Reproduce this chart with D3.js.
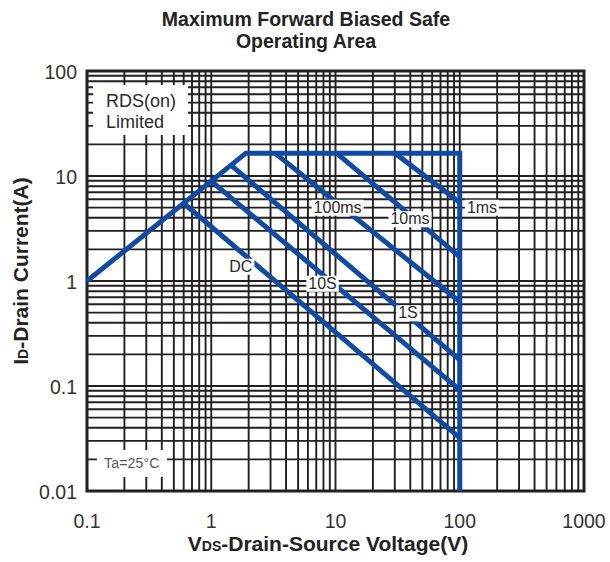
<!DOCTYPE html>
<html>
<head>
<meta charset="utf-8">
<script src="https://cdn.jsdelivr.net/npm/d3@7"></script>
<style>
  body { margin: 0; background: #fff; }
  svg { display: block; font-family: "Liberation Sans", Arial, sans-serif; }
</style>
</head>
<body>
<div id="chart"></div>
<script>
// axis ticks (log decades)
const xTicks = [0.1, 1, 10, 100, 1000];
const xTickLabels = ["0.1", "1", "10", "100", "1000"];
const yTicks = [0.01, 0.1, 1, 10, 100];
const yTickLabels = ["0.01", "0.1", "1", "10", "100"];

// outer SOA boundary: RDS(on) limit -> current limit -> voltage limit
const limitV = [0.1, 1.9, 100, 100];
const limitI = [1, 16.5, 16.5, 0.01];

// pulse-width lines
const pulseNames = ["DC", "10S", "1S", "100ms", "10ms", "1ms"];
const pulseStartV = [0.6, 1.0, 1.44, 3.26, 10.2, 30.1];
const pulseStartI = [5.5, 8.95, 12.7, 16.5, 16.5, 16.5];
const pulseEndV = [100, 100, 100, 100, 100, 100];
const pulseEndI = [0.032, 0.092, 0.177, 0.635, 1.7, 5.6];
// where each label sits (data coords)
const labelV = [1.73, 7.86, 38.3, 10.4, 39.8, 151];
const labelI = [1.39, 0.957, 0.5, 5.07, 3.94, 5.07];

const width = 610, height = 562;
const margin = { top: 71, right: 26, bottom: 71, left: 87 };

const svg = d3.select("#chart").append("svg")
    .attr("width", width)
    .attr("height", height);

svg.append("rect").attr("width", width).attr("height", height).attr("fill", "#fff");

const x = d3.scaleLog().domain([0.1, 1000]).range([margin.left, width - margin.right]);
const y = d3.scaleLog().domain([0.01, 100]).range([height - margin.bottom, margin.top]);

const gridCol = "#231f20";
const blue = "#0f4aa3";

// grid: 1..9 in each decade
const xGrid = [], yGrid = [];
xTicks.slice(0, -1).forEach(d => { for (let k = 1; k <= 9; k++) xGrid.push(d * k); });
yTicks.slice(0, -1).forEach(d => { for (let k = 1; k <= 9; k++) yGrid.push(d * k); });

const grid = svg.append("g");
grid.selectAll("line.v").data(xGrid).enter().append("line")
    .attr("x1", d => x(d)).attr("x2", d => x(d))
    .attr("y1", y(100)).attr("y2", y(0.01))
    .attr("stroke", gridCol).attr("stroke-width", 1.9);
grid.selectAll("line.h").data(yGrid).enter().append("line")
    .attr("x1", x(0.1)).attr("x2", x(1000))
    .attr("y1", d => y(d)).attr("y2", d => y(d))
    .attr("stroke", gridCol).attr("stroke-width", 1.9);

// frame
svg.append("rect")
    .attr("x", x(0.1)).attr("y", y(100))
    .attr("width", x(1000) - x(0.1)).attr("height", y(0.01) - y(100))
    .attr("fill", "none").attr("stroke", gridCol).attr("stroke-width", 3);

// white boxes for corner notes
svg.append("rect").attr("x", 93).attr("y", 85).attr("width", 95).attr("height", 50).attr("fill", "#fff");
svg.append("rect").attr("x", 97).attr("y", 450).attr("width", 70).attr("height", 27).attr("fill", "#fff");

const line = d3.line().x(d => x(d[0])).y(d => y(d[1]));

// boundary
svg.append("path")
    .attr("d", line(limitV.map((v, i) => [v, limitI[i]])))
    .attr("fill", "none").attr("stroke", blue).attr("stroke-width", 5)
    .attr("stroke-linejoin", "miter");

// pulse lines
svg.append("g").selectAll("path").data(pulseNames).enter().append("path")
    .attr("d", (d, i) => line([[pulseStartV[i], pulseStartI[i]], [pulseEndV[i], pulseEndI[i]]]))
    .attr("fill", "none").attr("stroke", blue).attr("stroke-width", 5);

// pulse labels with white backing
const lab = svg.append("g").selectAll("g").data(pulseNames).enter().append("g")
    .attr("transform", (d, i) => `translate(${x(labelV[i])},${y(labelI[i])})`);
lab.append("text")
    .attr("text-anchor", "middle").attr("dy", "0.36em")
    .attr("font-size", 16).attr("fill", "#2a2a2a")
    .text(d => d);
lab.each(function() {
  const g = d3.select(this);
  const b = g.select("text").node().getBBox();
  g.insert("rect", "text")
    .attr("x", b.x - 2).attr("y", b.y + 1)
    .attr("width", b.width + 4).attr("height", b.height - 1)
    .attr("fill", "#fff");
});

// notes
svg.append("text").attr("x", 106).attr("y", 107).attr("font-size", 18).attr("fill", "#2a2a2a").text("RDS(on)");
svg.append("text").attr("x", 106).attr("y", 128).attr("font-size", 18).attr("fill", "#2a2a2a").text("Limited");
svg.append("text").attr("x", 104).attr("y", 468).attr("font-size", 14).attr("fill", "#555")
    .attr("letter-spacing", 0.2).text("Ta=25°C");

// tick labels
svg.append("g").selectAll("text").data(xTicks).enter().append("text")
    .attr("x", d => x(d)).attr("y", 528)
    .attr("text-anchor", "middle").attr("font-size", 19.5).attr("fill", "#333")
    .text((d, i) => xTickLabels[i]);
svg.append("g").selectAll("text").data(yTicks).enter().append("text")
    .attr("x", 77).attr("y", d => y(d) + 8)
    .attr("text-anchor", "end").attr("font-size", 19.5).attr("fill", "#333")
    .text((d, i) => yTickLabels[i]);

// title
const title = svg.append("text").attr("text-anchor", "middle")
    .attr("font-size", 19.5).attr("font-weight", "bold").attr("fill", "#222");
title.append("tspan").attr("x", 306).attr("y", 26).text("Maximum Forward Biased Safe");
title.append("tspan").attr("x", 306).attr("y", 48).text("Operating Area");

// axis titles
const xt = svg.append("text").attr("x", 328).attr("y", 551).attr("text-anchor", "middle")
    .attr("font-size", 21).attr("font-weight", "bold").attr("fill", "#222");
xt.append("tspan").text("V");
xt.append("tspan").attr("font-size", 14).text("DS");
xt.append("tspan").text("-Drain-Source Voltage(V)");

const yt = svg.append("text")
    .attr("transform", "translate(28,271) rotate(-90)")
    .attr("text-anchor", "middle")
    .attr("font-size", 21).attr("font-weight", "bold").attr("fill", "#222");
yt.append("tspan").text("I");
yt.append("tspan").attr("font-size", 14).text("D");
yt.append("tspan").text("-Drain Current(A)");
</script>
</body>
</html>
